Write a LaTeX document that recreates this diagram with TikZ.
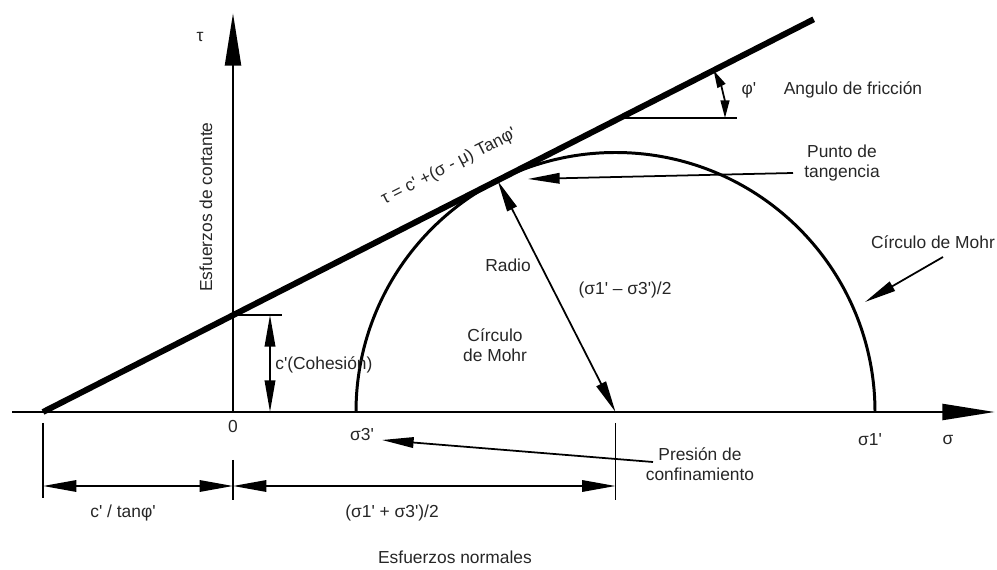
\documentclass[tikz,border=0pt]{standalone}
\usepackage{fontspec}
\setmainfont{Liberation Sans}
\usetikzlibrary{arrows.meta, calc}
\newcommand{\ap}{\textquotesingle}
\tikzset{
  axis/.style={
    -{Triangle[length=30pt, width=9pt]},
    line width=1.7pt
  },
  envelope/.style={
    line width=3.4pt
  },
  mohr/.style={
    line width=1.7pt
  },
  dim line/.style={
    {Triangle[length=19pt, width=6.5pt]}-{Triangle[length=19pt, width=6.5pt]},
    line width=1.1pt
  },
  tick line/.style={
    line width=1.1pt
  },
  pointer/.style={
    -{Triangle[length=18pt, width=6pt]},
    line width=1pt
  },
  both pointer/.style={
    {Triangle[length=18pt, width=6pt]}-{Triangle[length=18pt, width=6pt]},
    line width=1pt
  },
  small pointer/.style={
    {Triangle[length=10pt, width=5pt]}-{Triangle[length=10pt, width=5pt]},
    line width=1pt
  },
  txt/.style={
    font=\fontsize{9.9}{11.5}\selectfont,
    color=black!85,
    inner sep=0pt,
    align=center
  }
}

\begin{document}
\begin{tikzpicture}[scale=1.0]

  \useasboundingbox (0, 0) rectangle (19.94, 11.4);

  %% ---- ejes ----
  \coordinate (O) at (4.66, 3.16);
  \coordinate (Xstart) at (0.24, 3.16);
  \coordinate (Xend) at (19.9, 3.16);
  \coordinate (Yend) at (4.66, 11.14);
  \draw[axis] (Xstart) -- (Xend);
  \draw[axis] (O) -- (Yend);

  %% ---- envolvente de falla ----
  \coordinate (A) at (0.86, 3.16);
  \coordinate (B) at ($ (A)+(27:17.3) $);
  \draw[envelope] (A) -- (B);

  %% ---- circulo de Mohr ----
  \coordinate (C) at (12.31, 3.16);
  \coordinate (S3) at ($ (C)+(-5.19, 0) $);
  \coordinate (S1) at ($ (C)+(5.19, 0) $);
  \coordinate (T) at ($ (C)+(117:5.19) $);
  \draw[mohr] (S1) arc[start angle=0, end angle=180, radius=5.19];

  % radio
  \draw[both pointer] (T) -- (C);

  %% ---- cohesion ----
  \coordinate (Cc) at (4.66, 5.10);
  \coordinate (Cc2) at (5.64, 5.10);
  \draw[tick line] (Cc) -- (Cc2);
  \draw[both pointer] (5.40, 5.10) coordinate (Ctop) -- (5.40, 3.16) coordinate (Cbot);

  %% ---- angulo de friccion ----
  \coordinate (V) at (12.40, 9.04);
  \coordinate (Vh) at (14.74, 9.04);
  \draw[tick line] (V) -- (Vh);
  \draw[small pointer] ($ (V)+(0:2.1) $) arc[start angle=0, end angle=27, radius=2.1];

  %% ---- textos ----
  \node[txt] (tau) at (4.0, 10.66) {τ};
  \node[txt, rotate=90] (cortante) at (4.12, 7.26) {Esfuerzos de cortante};
  \node[txt, rotate=27] (eq) at (8.98, 8.06) {τ = c\ap{} +(σ - μ) Tanφ\ap};
  \node[txt] (phi) at (14.98, 9.6) {φ\ap};
  \node[txt] (fric) at (17.06, 9.6) {Angulo de fricción};
  \node[txt] (tang) at (16.84, 8.14) {Punto de\\tangencia};
  \node[txt] (radio) at (10.16, 6.1) {Radio};
  \node[txt] (dif) at (12.5, 5.6) {(σ1\ap{} – σ3\ap)/2};
  \node[txt] (mohr1) at (9.9, 4.5) {Círculo\\de Mohr};
  \node[txt] (mohr2) at (18.66, 6.56) {Círculo de Mohr};
  \node[txt, anchor=west] (coh) at (5.5, 4.10) {c\ap(Cohesión)};
  \node[txt] (cero) at (4.66, 2.86) {0};
  \node[txt] (s3) at (7.24, 2.7) {σ3\ap};
  \node[txt] (s1) at (17.4, 2.6) {σ1\ap};
  \node[txt] (sig) at (18.96, 2.6) {σ};
  \node[txt] (pres) at (14.0, 2.12) {Presión de\\confinamiento};

  %% ---- flechas indicadoras ----
  \coordinate (Ptan) at (15.86, 7.94);
  \draw[pointer] (Ptan) -- (10.56, 7.82);
  \coordinate (Pmohr) at (18.86, 6.26);
  \draw[pointer] (Pmohr) -- (17.3, 5.36);
  \coordinate (Ppres) at (13.06, 2.16);
  \draw[pointer] (Ppres) -- (7.64, 2.6);

  %% ---- cotas inferiores ----
  \draw[tick line] (0.86, 2.94) -- (0.86, 1.44);
  \draw[tick line] (4.66, 2.2) -- (4.66, 1.4);
  \draw[tick line] (12.31, 2.94) -- (12.31, 1.4);
  \draw[dim line] (0.86, 1.68) coordinate (D1) -- (4.66, 1.68) coordinate (D2);
  \draw[dim line] (D2) -- (12.31, 1.68) coordinate (D3);
  \node[txt] (ctan) at (2.46, 1.14) {c\ap{} / tanφ\ap};
  \node[txt] (suma) at (7.84, 1.14) {(σ1\ap{} + σ3\ap)/2};
  \node[txt] (normales) at (9.1, 0.26) {Esfuerzos normales};

\end{tikzpicture}
\end{document}
